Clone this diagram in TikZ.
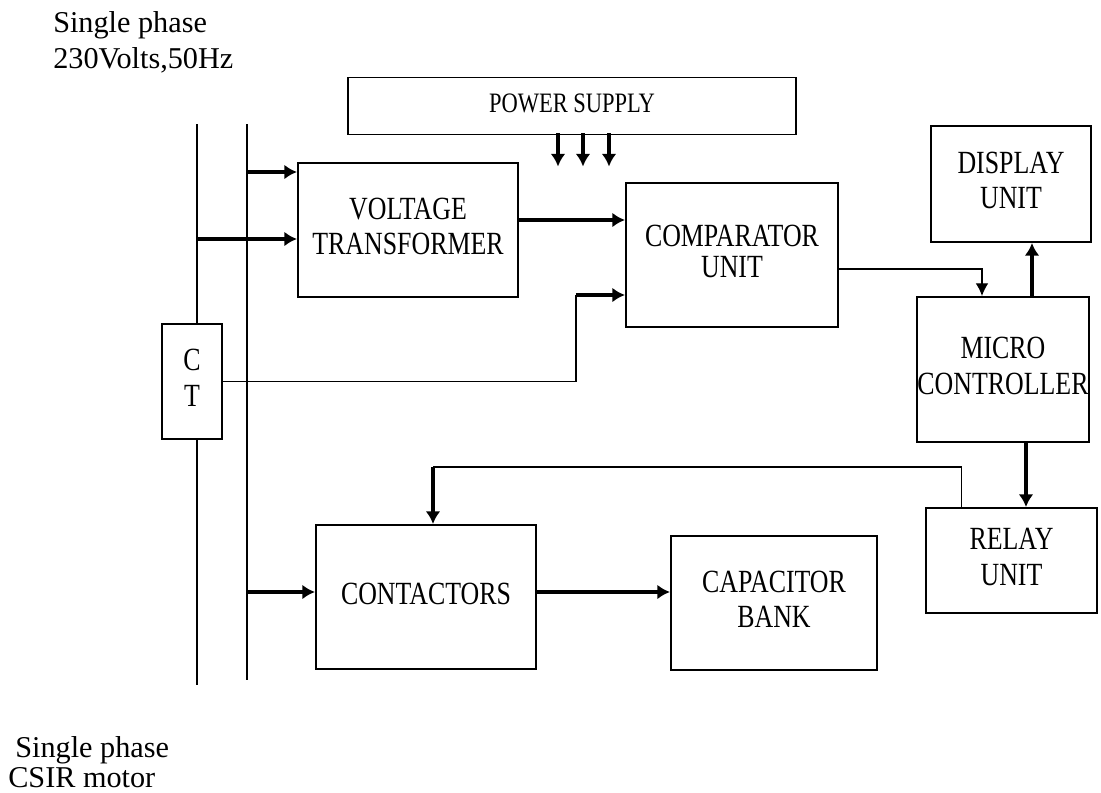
\documentclass[tikz,border=0pt]{standalone}
\usepackage{fontspec}
\setmainfont{Liberation Serif}
\usepackage{graphicx}
\usetikzlibrary{arrows.meta,positioning,calc}

\tikzset{
  blk/.style={draw, line width=1.4pt, inner sep=0pt, font=\fontsize{23}{25}\selectfont},
  arr/.style={line width=2.2pt, -{Latex[length=9pt,width=10.5pt]}},
  thinarr/.style={line width=0.9pt, -{Latex[length=9pt,width=9pt]}},
  wire/.style={line width=0.9pt},
  bus/.style={line width=1.4pt},
  lab/.style={align=left, inner sep=0pt},
}
\newcommand{\narrow}[1]{\scalebox{0.8}[1]{\begin{tabular}{@{}c@{}}#1\end{tabular}}}

\begin{document}
\begin{tikzpicture}[x=0.025cm, y=-0.025cm]
\useasboundingbox (0,0) rectangle (1101,792);

% blocks
\node[blk, minimum width=11.2cm, minimum height=1.425cm, font=\fontsize{20}{22}\selectfont] (ps) at (572,106) {\narrow{POWER SUPPLY}};
\node[blk, minimum width=5.5cm, minimum height=3.35cm] (vt) at (408,230) {\narrow{VOLTAGE\\TRANSFORMER}};
\node[blk, minimum width=5.3cm, minimum height=3.6cm] (comp) at (732,255) {\narrow{COMPARATOR\\[-3pt]UNIT}};
\node[blk, minimum width=4cm, minimum height=2.9cm] (disp) at (1011,184) {\narrow{DISPLAY\\UNIT}};
\node[blk, minimum width=4.05cm, minimum height=3.625cm] (micro) at (1003,369.5) {\narrow{MICRO\\CONTROLLER}};
\node[blk, minimum width=4.275cm, minimum height=2.625cm] (relay) at (1011.5,560.5) {\narrow{RELAY\\UNIT}};
\node[blk, minimum width=5.5cm, minimum height=3.6cm] (cont) at (426,597) {\narrow{CONTACTORS}};
\node[blk, minimum width=5.15cm, minimum height=3.35cm] (cap) at (774,603) {\narrow{CAPACITOR\\BANK}};
\node[blk, minimum width=1.5cm, minimum height=2.875cm] (ct) at (192,381.5) {\narrow{C\\T}};

% supply lines
\coordinate (lt) at (197,124);
\coordinate (lb) at (197,685);
\coordinate (rt) at (247,124);
\coordinate (rb) at (247,680);
\draw[bus] (lt) -- (lt |- ct.north);
\draw[bus] (lt |- ct.south) -- (lb);
\draw[bus] (rt) -- (rb);

% taps
\coordinate (tap1) at (247,172);
\coordinate (tap2) at (197,239);
\coordinate (tap3) at (247,592);
\draw[arr] (tap1) -- (vt.west |- tap1);
\draw[arr] (tap2) -- (vt.west |- tap2);
\draw[arr] (tap3) -- (cont.west |- tap3);

% signal path
\draw[arr] ($(vt.east)+(0,-10)$) -- ($(comp.west)+(0,-35)$);
\coordinate (ctk) at ($(comp.west)+(-49,40)$);
\draw[wire] (ct.east) -| (ctk);
\draw[arr] (ctk) -- (comp.west |- ctk);
\foreach \dx in {-14,11,37}
  \draw[arr] ($(ps.south)+(\dx,-2)$) -- ++(0,33);
\draw[thinarr] ($(comp.east)+(0,14)$) -| ($(micro.north)+(-21,0)$);
\coordinate (m1) at ($(micro.north)+(29,0)$);
\draw[arr] (m1) -- (m1 |- disp.south);
\coordinate (m2) at ($(micro.south)+(23,0)$);
\draw[arr] (m2) -- (m2 |- relay.north);
\coordinate (r1) at ($(relay.north)+(-50,0)$);
\coordinate (c1) at ($(cont.north)+(7,-57)$);
\draw[wire] (r1) |- (c1);
\draw[arr] (c1) -- (c1 |- cont.north);
\draw[arr] ($(cont.east)+(0,-5)$) -- ($(cap.west)+(0,-11)$);

% labels
\node[lab, anchor=north west, font=\fontsize{21.5}{25.5}\selectfont] (src) at (53,11) {Single phase\\230Volts,50Hz};
\node[lab, anchor=south west, font=\fontsize{21.5}{21.5}\selectfont] (mot) at (8,788) {\hspace*{5pt}Single phase\\CSIR motor};
\end{tikzpicture}
\end{document}
